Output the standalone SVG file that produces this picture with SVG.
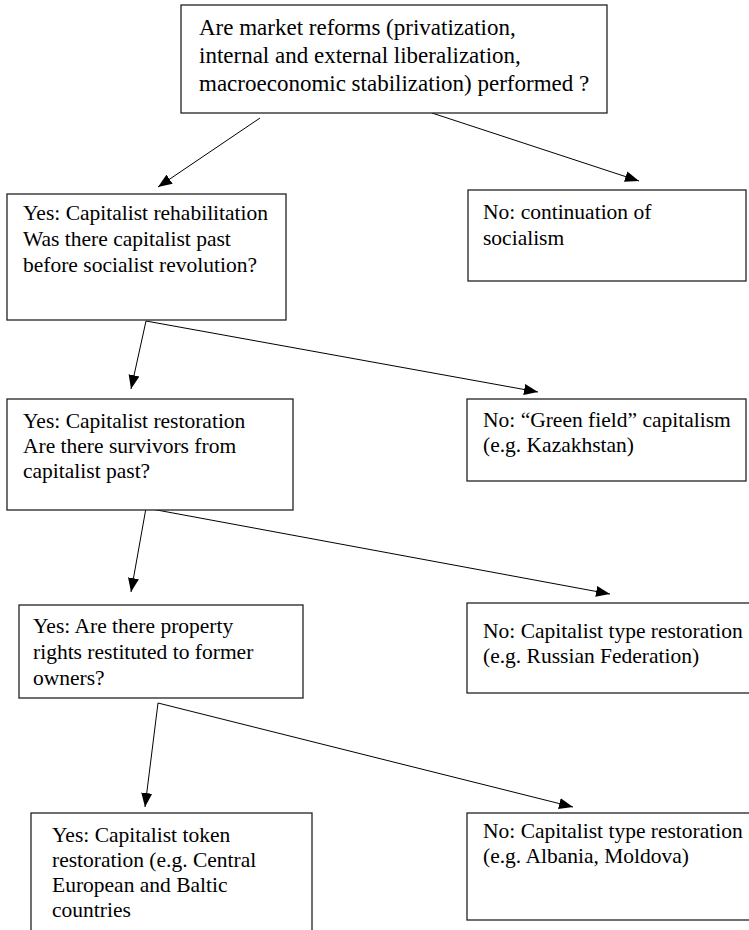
<svg xmlns="http://www.w3.org/2000/svg" width="749" height="930" viewBox="0 0 749 930">
<defs>
<marker id="ah" markerUnits="userSpaceOnUse" markerWidth="15" markerHeight="12" refX="14" refY="6" orient="auto">
<path d="M0,0.5 L14,6 L0,11.5 Z" fill="#000"/>
</marker>
<style>
.box{fill:#fff;stroke:#222;stroke-width:1.3}
text{font-family:'Liberation Serif','Tinos','Times New Roman','Noto Serif','DejaVu Serif','FreeSerif','Nimbus Roman',Times,serif;fill:#000}
.t{font-size:21.5px}
.tt{font-size:23px}
.c{stroke:#000;stroke-width:1;fill:none}
.a{marker-end:url(#ah)}
</style>
</defs>
<rect width="749" height="930" fill="#fff"/>
<g id="connectors">
<line class="c a" x1="260" y1="118" x2="158" y2="187"/>
<line class="c a" x1="432" y1="113" x2="639" y2="181"/>
<line class="c a" x1="146" y1="321" x2="131" y2="389"/>
<line class="c a" x1="146" y1="321" x2="538" y2="392"/>
<line class="c a" x1="146" y1="508" x2="131" y2="592"/>
<line class="c a" x1="146" y1="508" x2="610" y2="594"/>
<line class="c a" x1="158" y1="703" x2="145" y2="807"/>
<line class="c a" x1="158" y1="703" x2="573" y2="807"/>
</g>
<g id="q1">
<rect class="box" x="181" y="5" width="426" height="108"/>
<text class="tt" x="199" y="35">Are market reforms (privatization,</text>
<text class="tt" x="199" y="63">internal and external liberalization,</text>
<text class="tt" x="199" y="91">macroeconomic stabilization) performed ?</text>
</g>
<g id="yes1">
<rect class="box" x="7" y="194" width="279" height="126"/>
<text class="t" x="23" y="220">Yes: Capitalist rehabilitation</text>
<text class="t" x="23" y="246">Was there capitalist past</text>
<text class="t" x="23" y="272">before socialist revolution?</text>
</g>
<g id="no1">
<rect class="box" x="468" y="190" width="278" height="91"/>
<text class="t" x="483" y="219">No: continuation of</text>
<text class="t" x="483" y="245">socialism</text>
</g>
<g id="yes2">
<rect class="box" x="7" y="399" width="286" height="111"/>
<text class="t" x="23" y="428">Yes: Capitalist restoration</text>
<text class="t" x="23" y="453">Are there survivors from</text>
<text class="t" x="23" y="478">capitalist past?</text>
</g>
<g id="no2">
<rect class="box" x="467" y="399" width="279" height="82"/>
<text class="t" x="483" y="427">No: “Green field” capitalism</text>
<text class="t" x="483" y="452">(e.g. Kazakhstan)</text>
</g>
<g id="yes3">
<rect class="box" x="19" y="605" width="284" height="93"/>
<text class="t" x="33" y="633">Yes: Are there property</text>
<text class="t" x="33" y="659">rights restituted to former</text>
<text class="t" x="33" y="685">owners?</text>
</g>
<g id="no3">
<rect class="box" x="467" y="603" width="284" height="90"/>
<text class="t" x="483" y="638">No: Capitalist type restoration</text>
<text class="t" x="483" y="663">(e.g. Russian Federation)</text>
</g>
<g id="yes4">
<rect class="box" x="31" y="813" width="281" height="130"/>
<text class="t" x="52" y="842">Yes: Capitalist token</text>
<text class="t" x="52" y="867">restoration (e.g. Central</text>
<text class="t" x="52" y="892">European and Baltic</text>
<text class="t" x="52" y="917">countries</text>
</g>
<g id="no4">
<rect class="box" x="467" y="813" width="284" height="107"/>
<text class="t" x="483" y="838">No: Capitalist type restoration</text>
<text class="t" x="483" y="863">(e.g. Albania, Moldova)</text>
</g>
</svg>
